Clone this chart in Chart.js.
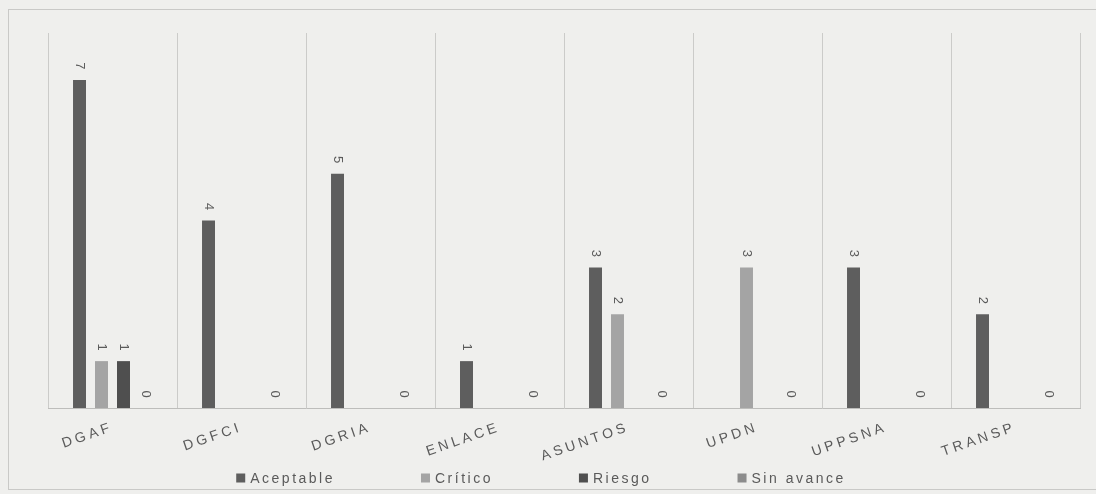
<!DOCTYPE html>
<html>
<head>
<meta charset="utf-8">
<script src="https://cdn.jsdelivr.net/npm/chart.js@4/dist/chart.umd.min.js"></script>
<style>
  html, body { margin: 0; padding: 0; background: #efefed; }
  #wrap { width: 1096px; height: 494px; }
</style>
</head>
<body>
<div id="wrap"><canvas id="estatus" width="1096" height="494"></canvas></div>
<script>
const areas = ["DGAF", "DGFCI", "DGRIA", "ENLACE", "ASUNTOS", "UPDN", "UPPSNA", "TRANSP"];
const aceptable = [7, 4, 5, 1, 3, null, 3, 2];
const critico = [1, null, null, null, 2, 3, null, null];
const riesgo = [1, null, null, null, null, null, null, null];
const sinAvance = [0, 0, 0, 0, 0, 0, 0, 0];

const textGray = "#5a5a5a";

// etiquetas de valor giradas 90 grados y leyenda dibujada a mano
const extras = {
    id: "extras",
    beforeLayout(chart) {
        chart.ctx.letterSpacing = "3.5px";
    },
    beforeDraw(chart) {
        const ctx = chart.ctx;
        ctx.save();
        ctx.strokeStyle = "#c9c9c7";
        ctx.lineWidth = 1;
        ctx.strokeRect(8.5, 9.5, 1100, 480);
        ctx.restore();
        ctx.letterSpacing = "3.5px";
    },
    afterDatasetsDraw(chart) {
        const ctx = chart.ctx;
        ctx.save();
        ctx.letterSpacing = "0px";
        ctx.font = "13px 'Liberation Sans'";
        ctx.fillStyle = textGray;
        ctx.textAlign = "center";
        ctx.textBaseline = "middle";
        chart.data.datasets.forEach((ds, i) => {
            const meta = chart.getDatasetMeta(i);
            meta.data.forEach((bar, j) => {
                const v = ds.data[j];
                if (v === null || v === undefined) return;
                ctx.save();
                ctx.translate(bar.x, bar.y - 14);
                ctx.rotate(Math.PI / 2);
                ctx.fillText(String(v), 0, 0);
                ctx.restore();
            });
        });
        ctx.restore();
    },
    afterDraw(chart) {
        const ctx = chart.ctx;
        ctx.save();
        ctx.font = "14px 'Liberation Sans'";
        ctx.letterSpacing = "2.5px";
        ctx.textBaseline = "middle";
        ctx.textAlign = "left";
        const box = 9, gap = 5, pad = 86;
        const items = chart.data.datasets.map(ds => ({
            text: ds.label,
            color: ds.backgroundColor,
            w: box + gap + ctx.measureText(ds.label).width
        }));
        const total = items.reduce((s, it) => s + it.w, 0) + pad * (items.length - 1);
        let x = 541 - total / 2;
        const y = 478;
        items.forEach(it => {
            ctx.fillStyle = it.color;
            ctx.fillRect(x, y - box / 2, box, box);
            ctx.fillStyle = textGray;
            ctx.fillText(it.text, x + box + gap, y + 1);
            x += it.w + pad;
        });
        ctx.restore();
    }
};

new Chart(document.getElementById("estatus"), {
    type: "bar",
    data: {
        labels: areas,
        datasets: [
            { label: "Aceptable", data: aceptable, backgroundColor: "#5e5e5e" },
            { label: "Crítico", data: critico, backgroundColor: "#a4a4a4" },
            { label: "Riesgo", data: riesgo, backgroundColor: "#4f4f4f" },
            { label: "Sin avance", data: sinAvance, backgroundColor: "#8c8c8c" }
        ]
    },
    options: {
        responsive: false,
        animation: false,
        layout: { padding: { left: 48, right: 16, top: 33, bottom: 0 } },
        datasets: {
            bar: { barPercentage: 0.59, categoryPercentage: 0.682, borderWidth: 0 }
        },
        scales: {
            x: {
                grid: { color: "#cbcbc9", drawTicks: false, lineWidth: 1 },
                border: { color: "#bdbdbb" },
                ticks: {
                    color: textGray,
                    font: { family: "'Liberation Sans'", size: 14 },
                    padding: 11,
                    minRotation: 19,
                    maxRotation: 19,
                    autoSkip: false
                },
                afterFit(scale) { scale.height = 86; }
            },
            y: {
                display: false,
                min: 0,
                max: 8
            }
        },
        plugins: {
            legend: { display: false },
            tooltip: { enabled: false }
        }
    },
    plugins: [extras]
});
</script>
</body>
</html>
